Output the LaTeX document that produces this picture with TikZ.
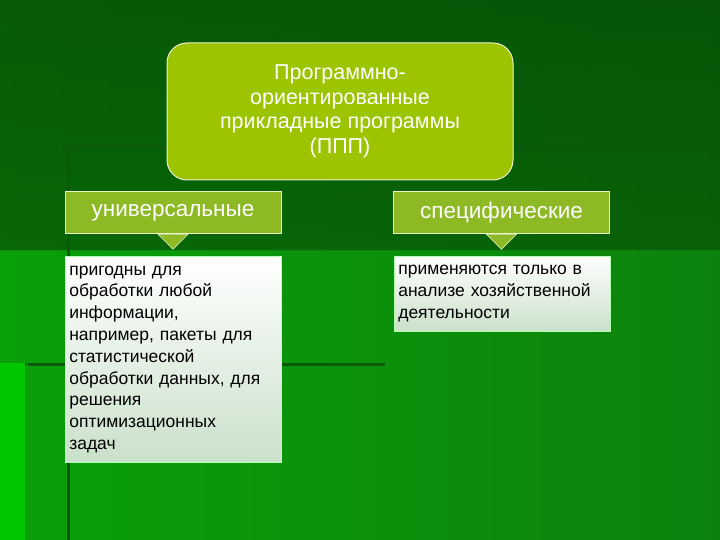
\documentclass[tikz,border=0pt]{standalone}
\usepackage{fontspec}
\setmainfont{Liberation Sans}
\usetikzlibrary{shapes.arrows}
\definecolor{lime}{HTML}{9CC400}
\definecolor{olive}{HTML}{8DBA24}
\definecolor{deco}{HTML}{0B5A0B}
\definecolor{bgL}{HTML}{0AA00A}
\definecolor{bgR}{HTML}{0C820C}
\definecolor{bgT}{HTML}{0A6A0A}
\tikzset{
 hdr/.style={draw=white!80!lime,line width=1pt,fill=olive,minimum width=216pt,minimum height=41pt,text=white,font=\fontsize{22.5}{26}\selectfont},
 body/.style={draw=white!70!green,line width=0.6pt,top color=white,bottom color=green!10!white!88!black,text width=208pt,inner sep=4pt,align=left,anchor=north west,font=\fontsize{17.5}{21.8}\selectfont},
 arr/.style={single arrow,shape border rotate=270,fill=olive,draw=white!80!lime,line width=0.6pt,minimum width=30pt,single arrow head extend=7pt,minimum height=16pt,inner sep=0pt}
}
\begin{document}
\begin{tikzpicture}[x=1pt,y=-1pt]
\useasboundingbox (0,0) rectangle (720,540);
\fill[left color=bgL,right color=bgR] (0,0) rectangle (720,540);
\fill[top color=bgT,bottom color=bgR,opacity=0.55] (0,0) rectangle (720,250);
\fill[green!78!black] (0,363) rectangle (25,540);
\draw[deco,line width=4pt] (62,147) -- (640,147);
\draw[deco,line width=3pt] (68,145) -- (68,540);
\draw[deco,line width=3pt] (25,364) -- (385,364);
\draw[deco!60!green,line width=2pt] (27,364) -- (27,540);
\node[draw=white!80!lime,line width=1pt,fill=lime,rounded corners=20pt,minimum width=346pt,minimum height=137pt,text=white,align=center,font=\fontsize{21.5}{24.5}\selectfont] (top) at (340,111.5) {Программно-\\ориентированные\\прикладные программы\\(ППП)};
\node[hdr] (u) at (173,212.5) {универсальные};
\node[hdr] (s) at (501.5,212.5) {специфические};
\node[arr] (au) at (173,241) {};
\node[arr] (as) at (501.5,241) {};
\node[body,minimum height=206pt] (bu) at (65,256) {пригодны для\\обработки любой\\информации,\\например, пакеты для\\статистической\\обработки данных, для\\решения\\оптимизационных\\задач};
\node[body,minimum height=75pt] (bs) at (394,256) {применяются только в\\анализе хозяйственной\\деятельности};
\end{tikzpicture}
\end{document}
